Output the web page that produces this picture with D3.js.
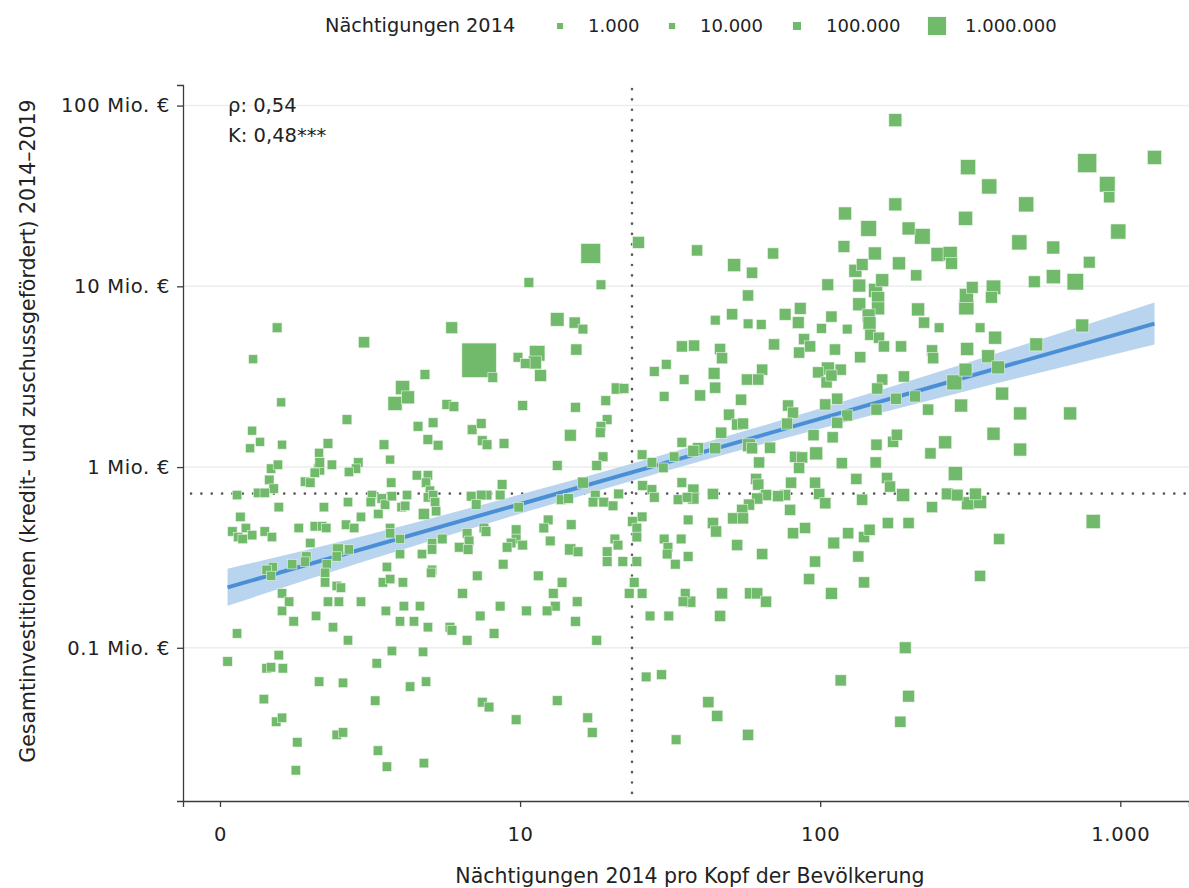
<!DOCTYPE html>
<html>
<head>
<meta charset="utf-8">
<script src="https://cdn.jsdelivr.net/npm/d3@7"></script>
<style>
  body { margin: 0; background: #fff; }
  text { font-family: "DejaVu Sans", sans-serif; fill: #222; }
</style>
</head>
<body>
<div id="chart"></div>
<script>
//Nächtigungen 2014 pro Kopf (x), one value per municipality
const nightsPerCapita = [
  1.55, 3.02, 1.29, 4.82, 4.06, 4.23, 3.83, 1.60, 2.65, 1.28,
  1.36, 1.26, 1.61, 2.29, 2.14, 4.57, 5.13, 4.93, 5.33, 3.52,
  3.69, 2.15, 2.14, 2.07, 2.36, 2.89, 2.84, 2.69, 1.48, 1.56,
  1.46, 1.92, 2.00, 1.51, 1.14, 1.34, 1.41, 1.57, 2.22, 2.67,
  3.72, 4.53, 4.93, 4.86, 5.01, 4.93, 5.13, 5.21, 3.21, 3.18,
  3.46, 3.55, 3.74, 4.20, 4.03, 4.14, 2.95, 3.37, 4.78, 5.25,
  1.17, 1.10, 1.22, 1.15, 1.19, 1.28, 1.41, 1.49, 1.83, 2.07,
  2.19, 2.26, 2.63, 2.80, 2.00, 3.69, 3.69, 3.98, 2.47, 2.69,
  2.45, 2.27, 1.94, 1.92, 1.74, 1.50, 1.43, 3.98, 4.71, 5.09,
  5.09, 3.60, 5.09, 1.48, 2.24, 2.24, 2.45, 2.53, 1.61, 1.70,
  1.61, 2.29, 2.49, 2.95, 1.76, 2.09, 2.38, 2.67, 1.14, 1.06,
  1.57, 1.43, 1.48, 1.62, 2.14, 2.57, 1.40, 1.54, 1.61, 1.81,
  1.79, 2.45, 2.57, 3.29, 3.36, 3.60, 4.78, 3.33, 3.74, 4.75,
  4.30, 4.86, 3.57, 4.10, 4.64, 3.98, 4.43, 4.93, 4.07, 3.49,
  3.69, 5.05,
  24.8, 17.2, 10.7, 18.6, 13.3, 15.2, 16.2, 5.92, 7.30, 8.11,
  9.84, 10.4, 11.4, 11.2, 11.7, 15.4, 34.6, 30.7, 28.0, 35.2,
  21.0, 22.2, 30.2, 19.3, 15.3, 10.2, 5.70, 6.02, 19.5, 18.6,
  18.5, 14.7, 6.92, 7.42, 7.48, 7.76, 8.84, 34.6, 25.5, 27.5,
  30.0, 32.6, 18.9, 18.0, 13.3, 16.2, 8.71, 34.6, 25.6, 27.5,
  28.0, 21.3, 17.8, 17.5, 19.0, 20.4, 33.6, 36.0, 13.7, 14.5,
  9.9, 8.58, 7.76, 7.42, 6.87, 7.14, 5.50, 6.66, 7.58, 7.70,
  6.76, 6.27, 6.71, 9.7, 9.7, 9.33, 9.05, 10.2, 12.4, 12.0,
  12.6, 14.8, 14.7, 15.6, 8.78, 19.5, 19.5, 22.0, 20.7, 21.2,
  23.7, 24.5, 24.5, 25.5, 24.5, 30.2, 31.1, 30.9, 34.4, 32.9,
  36.3, 36.3, 7.20, 6.43, 11.5, 13.8, 12.9, 13.1, 12.3, 8.58,
  7.36, 10.5, 15.5, 15.3, 18.0, 5.84, 5.93, 8.19, 6.66, 24.0,
  23.1, 25.5, 27.1, 31.3, 35.5, 34.9, 26.3, 29.6, 7.48, 7.88,
  9.7, 13.3, 16.8, 17.4, 33.1,
  36.9, 47.1, 58.4, 61.7, 66.0, 46.4, 91.9, 109, 140, 192,
  117, 197, 185, 42.4, 45.4, 57.5, 341,
  178, 178, 121, 145, 197, 219, 38.9, 51.7, 69.7, 59.3,
  120, 152, 138, 131, 183, 209, 106, 135, 161, 153,
  156, 135, 156, 145, 146, 57.5, 50.9, 44.7, 57.5, 63.6,
  76.4, 85.8, 84.5, 109, 101, 123, 212, 222, 311, 776,
  1300, 366, 905, 919, 486, 305, 985, 461, 598, 788,
  247, 271, 274, 321, 378, 372, 307, 307, 517, 598,
  708, 249, 341, 747,
  38.0, 46.4, 47.1, 44.3, 44.7, 39.8, 70.2, 88.4, 92.6, 85.1,
  112, 136, 147, 157, 163, 186, 236, 238, 64.1, 57.0,
  62.2, 54.5, 98.5, 106, 117, 105, 109, 161, 155, 190,
  207, 229, 179, 154, 114, 104, 123, 114, 110, 95,
  78.2, 81.2, 77.6, 49.7, 52.9, 55.3, 46.8, 39.2, 37.8, 44.7,
  57.9, 59.3, 68.1, 62.6, 82.5, 87.1, 85.1, 97, 118, 153,
  154, 175, 180, 233, 61.2, 62.2, 80, 96.2, 132, 167,
  171, 189, 236, 138, 99.3, 104, 76.4, 72.4, 66.0, 61.7,
  57.9, 55.0, 51.3, 55.3, 43.9, 37.8, 37.8, 79.4, 43.9, 45.0,
  81.2, 89.1, 111, 124, 140, 146, 168, 197, 52.9, 64.1,
  96.2, 134,
  383, 309, 363, 392, 305, 280, 525, 404, 295, 464,
  681, 378, 261, 464, 282, 265, 286, 329, 311, 341,
  812, 395
];

//Gesamtinvestitionen 2014-2019 in Mio. € (y)
const investmentMio = [
  5.9, 4.9, 3.95, 3.25, 2.75, 2.43, 2.25, 2.28, 1.83, 1.59,
  1.38, 1.27, 1.33, 1.35, 1.20, 1.68, 1.76, 1.42, 1.32, 1.33,
  1.10, 1.06, 0.97, 0.93, 1.03, 1.06, 0.98, 0.94, 0.98, 1.03,
  0.85, 0.83, 0.82, 0.76, 0.70, 0.72, 0.72, 0.60, 0.60, 0.64,
  0.82, 0.90, 0.90, 0.82, 0.74, 0.68, 0.70, 0.64, 0.70, 0.64,
  0.67, 0.62, 0.69, 0.70, 0.60, 0.61, 0.53, 0.55, 0.55, 0.57,
  0.53, 0.44, 0.46, 0.41, 0.40, 0.42, 0.44, 0.41, 0.46, 0.47,
  0.47, 0.46, 0.48, 0.46, 0.38, 0.46, 0.43, 0.40, 0.35, 0.35,
  0.32, 0.29, 0.32, 0.30, 0.29, 0.28, 0.27, 0.33, 0.33, 0.38,
  0.35, 0.28, 0.27, 0.25, 0.26, 0.23, 0.22, 0.215, 0.20, 0.18,
  0.16, 0.18, 0.18, 0.18, 0.14, 0.15, 0.13, 0.11, 0.12, 0.084,
  0.091, 0.077, 0.078, 0.077, 0.065, 0.064, 0.052, 0.039, 0.041, 0.030,
  0.021, 0.033, 0.034, 0.051, 0.027, 0.022, 0.023, 0.082, 0.096, 0.095,
  0.061, 0.065, 0.16, 0.17, 0.17, 0.14, 0.14, 0.13, 0.23, 0.23,
  0.24, 0.26,
  17.5, 15.2, 10.5, 10.2, 6.56, 6.3, 5.8, 5.9, 3.9, 3.13,
  4.05, 3.74, 4.26, 3.79, 3.21, 4.47, 4.65, 3.70, 3.38, 3.05,
  2.72, 2.72, 2.46, 2.33, 2.14, 2.19, 2.22, 2.16, 1.83, 1.68,
  1.55, 1.50, 1.61, 1.74, 1.40, 1.33, 1.35, 1.37, 1.17, 1.06,
  0.99, 1.14, 1.14, 1.02, 1.02, 0.82, 0.80, 0.82, 0.79, 0.75,
  0.68, 0.71, 0.70, 0.64, 0.64, 0.61, 0.66, 0.68, 0.66, 0.67,
  0.60, 0.70, 0.70, 0.70, 0.69, 0.62, 0.40, 0.43, 0.46, 0.44,
  0.39, 0.36, 0.35, 0.45, 0.40, 0.38, 0.36, 0.37, 0.51, 0.46,
  0.39, 0.48, 0.35, 0.34, 0.29, 0.34, 0.30, 0.30, 0.40, 0.37,
  0.50, 0.46, 0.41, 0.53, 0.30, 0.40, 0.36, 0.33, 0.40, 0.29,
  0.51, 0.32, 0.25, 0.20, 0.25, 0.23, 0.20, 0.17, 0.16, 0.17,
  0.15, 0.16, 0.18, 0.14, 0.11, 0.13, 0.125, 0.12, 0.11, 0.23,
  0.20, 0.20, 0.15, 0.15, 0.20, 0.18, 0.069, 0.071, 0.050, 0.047,
  0.040, 0.051, 0.041, 0.034, 0.031,
  0.18, 0.20, 0.20, 0.20, 0.18, 0.15, 0.24, 0.20, 0.23, 0.10,
  0.066, 0.054, 0.039, 0.050, 0.042, 0.033, 0.25,
  83, 28.4, 25.3, 20.9, 20.9, 18.9, 15.8, 13.1, 15.2, 11.9,
  16.6, 15.2, 13.2, 12.2, 13.4, 11.5, 10.2, 10.1, 10.8, 9.5,
  8.6, 7.95, 7.55, 6.9, 6.25, 8.9, 7.0, 6.5, 6.2, 6.15,
  7.0, 7.55, 6.3, 6.8, 5.85, 5.8, 7.45, 6.3, 45.6, 48,
  51.7, 35.7, 36.7, 31.1, 28.4, 23.8, 20.1, 17.5, 16.4, 13.6,
  15.0, 15.2, 13.4, 9.87, 9.87, 8.7, 8.9, 7.65, 10.6, 11.3,
  10.6, 5.9, 5.9, 6.07,
  4.7, 4.5, 4.0, 3.3, 2.75, 2.49, 4.77, 5.1, 4.65, 4.3,
  4.47, 4.05, 5.4, 5.2, 4.65, 4.65, 4.42, 4.0, 3.46, 3.05,
  3.05, 2.36, 3.34, 3.51, 3.46, 2.94, 3.21, 3.05, 2.72, 3.17,
  2.46, 2.08, 2.39, 2.08, 2.39, 2.22, 1.93, 1.76, 1.46, 1.50,
  2.19, 2.0, 1.74, 1.95, 1.72, 1.74, 1.55, 1.27, 1.23, 1.27,
  1.32, 1.27, 1.28, 1.06, 1.14, 1.13, 0.99, 1.19, 1.05, 1.06,
  1.33, 1.38, 1.51, 1.19, 0.86, 0.80, 0.82, 0.82, 0.86, 0.87,
  0.78, 0.70, 0.60, 0.66, 0.71, 0.63, 0.70, 0.69, 0.70, 0.67,
  0.62, 0.58, 0.52, 0.52, 0.71, 0.75, 0.67, 0.58, 0.49, 0.44,
  0.43, 0.46, 0.38, 0.43, 0.41, 0.45, 0.49, 0.49, 0.37, 0.33,
  0.30, 0.32,
  5.2, 4.5, 4.1, 3.56, 3.46, 2.94, 4.77, 2.55, 2.19, 1.98,
  1.98, 1.53, 1.37, 1.25, 0.92, 0.71, 0.70, 0.71, 0.63, 0.64,
  0.50, 0.40
];

//Nächtigungen 2014 (size of the squares)
const nights2014 = [
  200e3, 300e3, 150e3, 200e3, 550e3, 450e3, 550e3, 150e3, 200e3, 150e3,
  150e3, 150e3, 150e3, 200e3, 150e3, 200e3, 200e3, 200e3, 200e3, 200e3,
  150e3, 200e3, 300e3, 180e3, 180e3, 180e3, 180e3, 180e3, 180e3, 180e3,
  180e3, 180e3, 180e3, 180e3, 180e3, 180e3, 180e3, 180e3, 180e3, 180e3,
  180e3, 180e3, 180e3, 180e3, 180e3, 180e3, 180e3, 180e3, 180e3, 180e3,
  180e3, 180e3, 180e3, 180e3, 180e3, 180e3, 180e3, 180e3, 300e3, 180e3,
  180e3, 180e3, 180e3, 180e3, 180e3, 180e3, 180e3, 180e3, 180e3, 180e3,
  180e3, 180e3, 180e3, 180e3, 180e3, 180e3, 180e3, 180e3, 300e3, 180e3,
  180e3, 180e3, 180e3, 180e3, 180e3, 180e3, 180e3, 180e3, 180e3, 180e3,
  180e3, 180e3, 180e3, 180e3, 180e3, 180e3, 180e3, 180e3, 180e3, 180e3,
  180e3, 180e3, 180e3, 180e3, 180e3, 180e3, 180e3, 180e3, 180e3, 180e3,
  180e3, 180e3, 180e3, 180e3, 180e3, 180e3, 180e3, 180e3, 180e3, 180e3,
  180e3, 180e3, 180e3, 180e3, 180e3, 180e3, 180e3, 180e3, 180e3, 180e3,
  180e3, 180e3, 180e3, 180e3, 180e3, 180e3, 180e3, 180e3, 180e3, 180e3,
  180e3, 180e3,
  350e3, 1200e3, 200e3, 200e3, 500e3, 300e3, 200e3, 350e3, 3900e3, 200e3,
  200e3, 200e3, 700e3, 450e3, 350e3, 300e3, 300e3, 200e3, 200e3, 200e3,
  300e3, 200e3, 200e3, 200e3, 200e3, 200e3, 200e3, 200e3, 200e3, 200e3,
  200e3, 350e3, 200e3, 200e3, 200e3, 200e3, 200e3, 200e3, 200e3, 200e3,
  200e3, 200e3, 200e3, 200e3, 200e3, 300e3, 200e3, 200e3, 200e3, 200e3,
  200e3, 200e3, 200e3, 200e3, 200e3, 200e3, 200e3, 200e3, 200e3, 200e3,
  200e3, 200e3, 200e3, 200e3, 200e3, 200e3, 200e3, 200e3, 200e3, 200e3,
  200e3, 200e3, 200e3, 200e3, 200e3, 200e3, 200e3, 200e3, 200e3, 200e3,
  200e3, 200e3, 300e3, 200e3, 200e3, 200e3, 200e3, 200e3, 200e3, 200e3,
  200e3, 200e3, 200e3, 200e3, 200e3, 200e3, 200e3, 200e3, 200e3, 200e3,
  200e3, 200e3, 200e3, 200e3, 200e3, 200e3, 200e3, 200e3, 200e3, 200e3,
  200e3, 200e3, 200e3, 200e3, 200e3, 200e3, 200e3, 200e3, 200e3, 200e3,
  200e3, 200e3, 200e3, 200e3, 200e3, 200e3, 200e3, 200e3, 200e3, 200e3,
  200e3, 200e3, 200e3, 200e3, 200e3,
  300e3, 300e3, 300e3, 300e3, 300e3, 300e3, 300e3, 350e3, 300e3, 350e3,
  300e3, 350e3, 300e3, 300e3, 300e3, 300e3, 300e3,
  450e3, 450e3, 450e3, 700e3, 450e3, 700e3, 300e3, 450e3, 300e3, 300e3,
  350e3, 450e3, 350e3, 450e3, 450e3, 300e3, 350e3, 450e3, 450e3, 550e3,
  450e3, 450e3, 450e3, 450e3, 450e3, 300e3, 300e3, 200e3, 200e3, 200e3,
  350e3, 350e3, 350e3, 300e3, 200e3, 200e3, 450e3, 300e3, 650e3, 1100e3,
  550e3, 650e3, 700e3, 300e3, 650e3, 550e3, 650e3, 650e3, 450e3, 350e3,
  550e3, 550e3, 350e3, 350e3, 600e3, 350e3, 550e3, 650e3, 350e3, 550e3,
  800e3, 200e3, 200e3, 450e3,
  300e3, 300e3, 300e3, 350e3, 300e3, 300e3, 300e3, 300e3, 300e3, 300e3,
  300e3, 300e3, 300e3, 300e3, 300e3, 300e3, 300e3, 300e3, 300e3, 300e3,
  300e3, 300e3, 300e3, 450e3, 300e3, 300e3, 300e3, 300e3, 300e3, 300e3,
  300e3, 300e3, 300e3, 300e3, 300e3, 300e3, 300e3, 300e3, 300e3, 300e3,
  300e3, 300e3, 300e3, 300e3, 300e3, 300e3, 300e3, 300e3, 300e3, 300e3,
  450e3, 300e3, 300e3, 300e3, 300e3, 300e3, 300e3, 450e3, 300e3, 300e3,
  300e3, 300e3, 300e3, 300e3, 300e3, 300e3, 300e3, 300e3, 300e3, 300e3,
  300e3, 450e3, 300e3, 300e3, 300e3, 300e3, 300e3, 300e3, 300e3, 300e3,
  300e3, 300e3, 300e3, 300e3, 300e3, 300e3, 300e3, 300e3, 300e3, 300e3,
  300e3, 300e3, 350e3, 300e3, 300e3, 300e3, 300e3, 300e3, 300e3, 300e3,
  300e3, 300e3,
  450e3, 450e3, 450e3, 450e3, 450e3, 650e3, 450e3, 450e3, 450e3, 450e3,
  450e3, 450e3, 450e3, 450e3, 550e3, 350e3, 350e3, 350e3, 450e3, 450e3,
  550e3, 300e3
];

//Regression line and its confidence band (values in Mio. €)
const fitX = [1.06, 1300];
const fitY = [0.216, 6.22];
const bandX = [1.06, 3, 10, 30, 100, 300, 1300];
const bandLow = [0.171, 0.299, 0.552, 0.942, 1.63, 2.61, 4.77];
const bandHigh = [0.274, 0.416, 0.705, 1.17, 2.11, 3.72, 8.13];

//Medians (dotted reference lines)
const medianX = 23.6;
const medianY = 0.713;

//Ticks and legend
const xTicks = [1, 10, 100, 1000];
const xTickLabels = ["0", "10", "100", "1.000"];
const yTicks = [0.1, 1, 10, 100];
const yTickLabels = ["0.1 Mio. €", "1 Mio. €", "10 Mio. €", "100 Mio. €"];
const legendValues = [1000, 10000, 100000, 1000000];
const legendLabels = ["1.000", "10.000", "100.000", "1.000.000"];
const statLines = ["ρ: 0,54", "K: 0,48***"];

const width = 1189;
const height = 888;
const margin = {top: 85, right: 0, bottom: 87, left: 183};

const svg = d3.select("#chart").append("svg")
  .attr("width", width)
  .attr("height", height);

//Scales setup
const xscale = d3.scaleLog().domain([0.753, 1694]).range([margin.left, width - margin.right]);
const yscale = d3.scaleLog().domain([0.0142, 130]).range([height - margin.bottom, margin.top]);
const areaScale = d3.scaleLinear().domain([0, 1e6]).range([36, 330]);
const side = (n) => Math.sqrt(areaScale(n));

const points = nightsPerCapita.map((x, i) => ({x: x, y: investmentMio[i], n: nights2014[i]}));
//big squares first so small ones stay visible
points.sort((a, b) => b.n - a.n);

//Horizontal grid lines
svg.append("g").selectAll("line").data(yTicks).join("line")
  .attr("x1", margin.left).attr("x2", width - margin.right)
  .attr("y1", (d) => yscale(d)).attr("y2", (d) => yscale(d))
  .attr("stroke", "#ededed").attr("stroke-width", 1.5);

//Dotted median lines
const dots = svg.append("g")
  .attr("stroke", "#5a5a5a").attr("stroke-width", 2.6)
  .attr("stroke-linecap", "round").attr("stroke-dasharray", "0.1 10.25");
dots.append("line")
  .attr("x1", margin.left + 8).attr("x2", width - margin.right)
  .attr("y1", yscale(medianY)).attr("y2", yscale(medianY));
dots.append("line")
  .attr("x1", xscale(medianX)).attr("x2", xscale(medianX))
  .attr("y1", margin.top + 4).attr("y2", height - margin.bottom);

//Confidence band + regression line
const band = bandX.map((x, i) => ({x: x, lo: bandLow[i], hi: bandHigh[i]}));
svg.append("path").datum(band)
  .attr("fill", "#b9d4ee")
  .attr("d", d3.area()
    .curve(d3.curveMonotoneX)
    .x((d) => xscale(d.x))
    .y0((d) => yscale(d.lo))
    .y1((d) => yscale(d.hi)));

svg.append("path").datum(fitX.map((x, i) => [x, fitY[i]]))
  .attr("fill", "none")
  .attr("stroke", "#4a8fd6")
  .attr("stroke-width", 4)
  .attr("d", d3.line().x((d) => xscale(d[0])).y((d) => yscale(d[1])));

//Squares
svg.append("g").selectAll("rect").data(points).join("rect")
  .attr("x", (d) => xscale(d.x) - side(d.n) / 2)
  .attr("y", (d) => yscale(d.y) - side(d.n) / 2)
  .attr("width", (d) => side(d.n))
  .attr("height", (d) => side(d.n))
  .attr("fill", "#71b96b")
  .attr("stroke", "#eaf5e8")
  .attr("stroke-width", 0.6);

//Axes
const xaxis = d3.axisBottom(xscale)
  .tickValues(xTicks)
  .tickFormat((d, i) => xTickLabels[i])
  .tickSizeOuter(0).tickSize(6).tickPadding(20);
const yaxis = d3.axisLeft(yscale)
  .tickValues(yTicks)
  .tickFormat((d, i) => yTickLabels[i])
  .tickSizeOuter(0).tickSize(6).tickPadding(7);

const g_xaxis = svg.append("g")
  .attr("transform", `translate(0,${height - margin.bottom})`)
  .call(xaxis);
const g_yaxis = svg.append("g")
  .attr("transform", `translate(${margin.left},0)`)
  .call(yaxis);

[g_xaxis, g_yaxis].forEach((g) => {
  g.select(".domain").attr("stroke", "#3c3c3c").attr("stroke-width", 1.3);
  g.selectAll(".tick line").attr("stroke", "#3c3c3c").attr("stroke-width", 1.3);
  g.selectAll(".tick text")
    .attr("fill", "#222")
    .style("font-family", '"DejaVu Sans", sans-serif')
    .style("font-size", "19.5px")
    .style("letter-spacing", "0.7px");
});

//Axis titles
svg.append("text")
  .attr("x", (margin.left + width - margin.right) / 2 + 4)
  .attr("y", 883)
  .attr("text-anchor", "middle")
  .style("font-size", "20.5px")
  .text("Nächtigungen 2014 pro Kopf der Bevölkerung");

svg.append("text")
  .attr("transform", `translate(35,${(margin.top + height - margin.bottom) / 2 - 12}) rotate(-90)`)
  .attr("text-anchor", "middle")
  .style("font-size", "20.5px")
  .text("Gesamtinvestitionen (kredit- und zuschussgefördert) 2014–2019");

//Correlation labels
svg.append("g").selectAll("text").data(statLines).join("text")
  .attr("x", 228)
  .attr("y", (d, i) => 112 + i * 30)
  .style("font-size", "19.5px")
  .text((d) => d);

//Legend
const legend = svg.append("g");
legend.append("text")
  .attr("x", 325).attr("y", 32)
  .style("font-size", "19.3px")
  .text("Nächtigungen 2014");

const legendX = [560, 672, 797, 937];
const legendItem = legend.selectAll(".item").data(legendValues).join("g")
  .attr("class", "item")
  .attr("transform", (d, i) => `translate(${legendX[i]},26)`);
legendItem.append("rect")
  .attr("x", (d) => -side(d) / 2)
  .attr("y", (d) => -side(d) / 2)
  .attr("width", (d) => side(d))
  .attr("height", (d) => side(d))
  .attr("fill", "#71b96b");
legendItem.append("text")
  .attr("x", (d, i) => i === 3 ? 28 : 30 - (i === 2 ? 1 : 2))
  .attr("y", 6)
  .style("font-size", "18px")
  .text((d, i) => legendLabels[i]);
</script>
</body>
</html>
